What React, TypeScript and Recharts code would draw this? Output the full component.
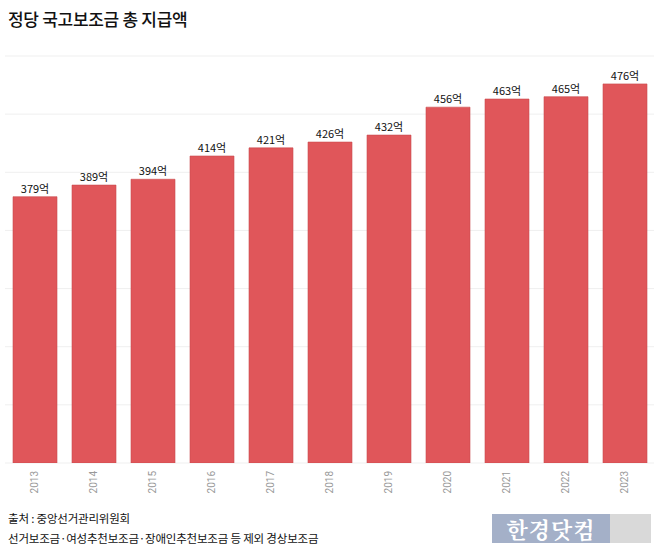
import React from 'react';
import { BarChart, Bar, XAxis, YAxis, CartesianGrid, LabelList } from 'recharts';

const years = ['2013', '2014', '2015', '2016', '2017', '2018', '2019', '2020', '2021', '2022', '2023'];
const amounts = [379, 389, 394, 414, 421, 426, 432, 456, 463, 465, 476];
const yTicks = [150, 200, 250, 300, 350, 400, 450, 500];

const data = years.map((y, i) => ({ year: y, value: amounts[i] }));

const FONT = '"Noto Sans CJK KR", "Noto Sans", sans-serif';

const YearTick = (props: any) => {
  const { x, y, payload } = props;
  return (
    <text
      x={x}
      y={y}
      transform={`rotate(-90, ${x}, ${y})`}
      textAnchor="end"
      dominantBaseline="central"
      fill="#999"
      fontSize={10}
      fontFamily="Roboto, Arial, sans-serif"
    >
      {payload.value}
    </text>
  );
};

export default function App() {
  return (
    <div style={{ position: 'absolute', left: 0, top: 0, width: 658, height: 549, background: '#fff', fontFamily: FONT }}>
      <div style={{ position: 'absolute', left: 8, top: 6, fontSize: 17, fontWeight: 500, color: '#111', letterSpacing: -0.3 }}>
        정당 국고보조금 총 지급액
      </div>
      <div style={{ position: 'absolute', left: 0, top: 0 }}>
        <BarChart
          width={658}
          height={500}
          data={data}
          margin={{ top: 56, right: 4, bottom: 7, left: 5 }}
        >
          <CartesianGrid horizontal vertical={false} stroke="#efefef" />
          <XAxis
            dataKey="year"
            axisLine={false}
            tickLine={false}
            height={30}
            interval={0}
            tick={<YearTick />}
            tickMargin={2}
          />
          <YAxis hide domain={[150, 500]} ticks={yTicks} allowDataOverflow />
          <Bar dataKey="value" fill="#E0565A" stroke="#C94A4E" strokeWidth={0.6} barSize={44} isAnimationActive={false}>
            <LabelList
              dataKey="value"
              position="top"
              offset={4}
              formatter={(v: any) => `${v}억`}
              fill="#111"
              fontSize={11}
              fontFamily={FONT}
            />
          </Bar>
        </BarChart>
      </div>
      <div style={{ position: 'absolute', left: 8, top: 508, fontSize: 11.5, color: '#111', lineHeight: '20px', letterSpacing: -0.2 }}>
        <div>출처 : 중앙선거관리위원회</div>
        <div>선거보조금·여성추천보조금·장애인추천보조금 등 제외 경상보조금</div>
      </div>
      <div style={{ position: 'absolute', left: 492, top: 514, width: 118, height: 29, background: '#A4B0C8', color: '#fff', fontSize: 22, fontWeight: 700, fontFamily: '"Noto Serif CJK KR", "Noto Sans CJK KR", serif', lineHeight: '29px', textAlign: 'center', letterSpacing: 1 }}>
        한경닷컴
      </div>
      <div style={{ position: 'absolute', left: 610, top: 514, width: 41, height: 29, background: '#D9D9D9' }} />
    </div>
  );
}
